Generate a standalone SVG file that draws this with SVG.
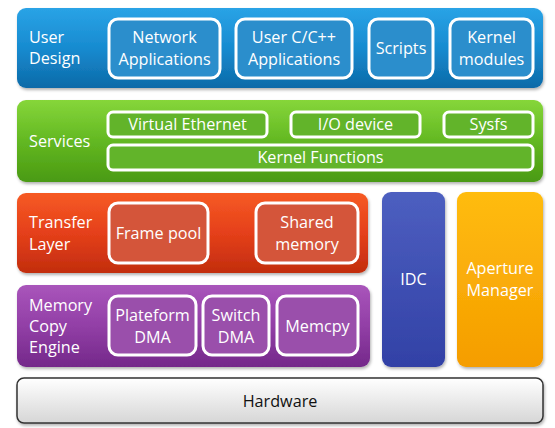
<svg xmlns="http://www.w3.org/2000/svg" width="555" height="428" viewBox="0 0 555 428">
<defs>
<linearGradient id="gBlue" x1="0" y1="0" x2="0" y2="1"><stop offset="0" stop-color="#2aa3e6"/><stop offset="0.5" stop-color="#178bd0"/><stop offset="1" stop-color="#0d6aa8"/></linearGradient>
<linearGradient id="gGreen" x1="0" y1="0" x2="0" y2="1"><stop offset="0" stop-color="#86d63a"/><stop offset="0.5" stop-color="#63b822"/><stop offset="1" stop-color="#4a9a12"/></linearGradient>
<linearGradient id="gRed" x1="0" y1="0" x2="0" y2="1"><stop offset="0" stop-color="#f65a24"/><stop offset="0.5" stop-color="#e5401a"/><stop offset="1" stop-color="#c22d0e"/></linearGradient>
<linearGradient id="gPurple" x1="0" y1="0" x2="0" y2="1"><stop offset="0" stop-color="#a955bb"/><stop offset="0.5" stop-color="#923fa6"/><stop offset="1" stop-color="#74288a"/></linearGradient>
<linearGradient id="gIdc" x1="0" y1="0" x2="0" y2="1"><stop offset="0" stop-color="#4d5fc0"/><stop offset="1" stop-color="#3241a6"/></linearGradient>
<linearGradient id="gOrange" x1="0" y1="0" x2="0" y2="1"><stop offset="0" stop-color="#ffbc10"/><stop offset="1" stop-color="#f59d00"/></linearGradient>
<linearGradient id="gGrey" x1="0" y1="0" x2="0" y2="1"><stop offset="0" stop-color="#ffffff"/><stop offset="1" stop-color="#d6d6d6"/></linearGradient>
<filter id="sh" x="-5%" y="-10%" width="110%" height="125%"><feDropShadow dx="1" dy="2" stdDeviation="1.5" flood-color="#000" flood-opacity="0.3"/></filter>
<style>
.band{filter:url(#sh);}
.inner{stroke:#ffffff;stroke-width:3;}
.t{font-family:"Open Sans","Noto Sans",sans-serif;font-size:16.2px;fill:#ffffff;}
.c{text-anchor:middle;}
.dark{fill:#111111;}
</style>
</defs>

<g id="user-design">
<rect class="band" x="17" y="8" width="526" height="80" rx="9" fill="url(#gBlue)"/>
<text class="t" x="29" y="43">User</text>
<text class="t" x="29" y="64">Design</text>
</g>
<g id="network-applications">
<rect class="inner" x="109" y="19" width="111" height="59" rx="9" fill="#2b8ecc"/>
<text class="t c" x="164.5" y="43">Network</text>
<text class="t c" x="164.5" y="65">Applications</text>
</g>
<g id="user-cpp-applications">
<rect class="inner" x="236" y="19" width="116" height="59" rx="9" fill="#2b8ecc"/>
<text class="t c" x="294" y="43">User C/C++</text>
<text class="t c" x="294" y="65">Applications</text>
</g>
<g id="scripts">
<rect class="inner" x="369" y="19" width="64" height="59" rx="9" fill="#2b8ecc"/>
<text class="t c" x="401" y="54">Scripts</text>
</g>
<g id="kernel-modules">
<rect class="inner" x="450" y="19" width="83" height="59" rx="9" fill="#2b8ecc"/>
<text class="t c" x="491.5" y="43">Kernel</text>
<text class="t c" x="491.5" y="65">modules</text>
</g>

<g id="services">
<rect class="band" x="17" y="100" width="526" height="82" rx="9" fill="url(#gGreen)"/>
<text class="t" x="29" y="147">Services</text>
</g>
<g id="virtual-ethernet">
<rect class="inner" x="108" y="112" width="159" height="25" rx="5" fill="#62b42a"/>
<text class="t c" x="187.5" y="130">Virtual Ethernet</text>
</g>
<g id="io-device">
<rect class="inner" x="291" y="112" width="129" height="25" rx="5" fill="#62b42a"/>
<text class="t c" x="355.5" y="130">I/O device</text>
</g>
<g id="sysfs">
<rect class="inner" x="444" y="112" width="89" height="25" rx="5" fill="#62b42a"/>
<text class="t c" x="488.5" y="130">Sysfs</text>
</g>
<g id="kernel-functions">
<rect class="inner" x="108" y="145" width="425" height="25" rx="5" fill="#62b42a"/>
<text class="t c" x="320.5" y="163">Kernel Functions</text>
</g>

<g id="transfer-layer">
<rect class="band" x="17" y="193" width="351" height="80" rx="9" fill="url(#gRed)"/>
<text class="t" x="29" y="228">Transfer</text>
<text class="t" x="29" y="250">Layer</text>
</g>
<g id="frame-pool">
<rect class="inner" x="109" y="203" width="99" height="60" rx="9" fill="#d4553a"/>
<text class="t c" x="158.5" y="239">Frame pool</text>
</g>
<g id="shared-memory">
<rect class="inner" x="256" y="203" width="102" height="60" rx="9" fill="#d4553a"/>
<text class="t c" x="307" y="228">Shared</text>
<text class="t c" x="307" y="250">memory</text>
</g>

<g id="memory-copy-engine">
<rect class="band" x="17" y="285" width="353" height="82" rx="9" fill="url(#gPurple)"/>
<text class="t" x="29" y="311">Memory</text>
<text class="t" x="29" y="332">Copy</text>
<text class="t" x="29" y="353">Engine</text>
</g>
<g id="plateform-dma">
<rect class="inner" x="109" y="296" width="87" height="59" rx="9" fill="#9a4fab"/>
<text class="t c" x="152.5" y="321">Plateform</text>
<text class="t c" x="152.5" y="343">DMA</text>
</g>
<g id="switch-dma">
<rect class="inner" x="203" y="296" width="66" height="59" rx="9" fill="#9a4fab"/>
<text class="t c" x="236" y="321">Switch</text>
<text class="t c" x="236" y="343">DMA</text>
</g>
<g id="memcpy">
<rect class="inner" x="277" y="296" width="81" height="59" rx="9" fill="#9a4fab"/>
<text class="t c" x="317.5" y="332">Memcpy</text>
</g>

<g id="idc">
<rect class="band" x="382" y="192" width="63" height="175" rx="9" fill="url(#gIdc)"/>
<text class="t c" x="413.5" y="285">IDC</text>
</g>
<g id="aperture-manager">
<rect class="band" x="457" y="192" width="86" height="175" rx="9" fill="url(#gOrange)"/>
<text class="t c" x="500" y="274">Aperture</text>
<text class="t c" x="500" y="296">Manager</text>
</g>

<g id="hardware">
<rect class="band" x="17" y="378" width="526" height="45" rx="7" fill="url(#gGrey)" stroke="#333333" stroke-width="1.5"/>
<text class="t c dark" x="280" y="407">Hardware</text>
</g>

<g id="connectors"></g>
</svg>
